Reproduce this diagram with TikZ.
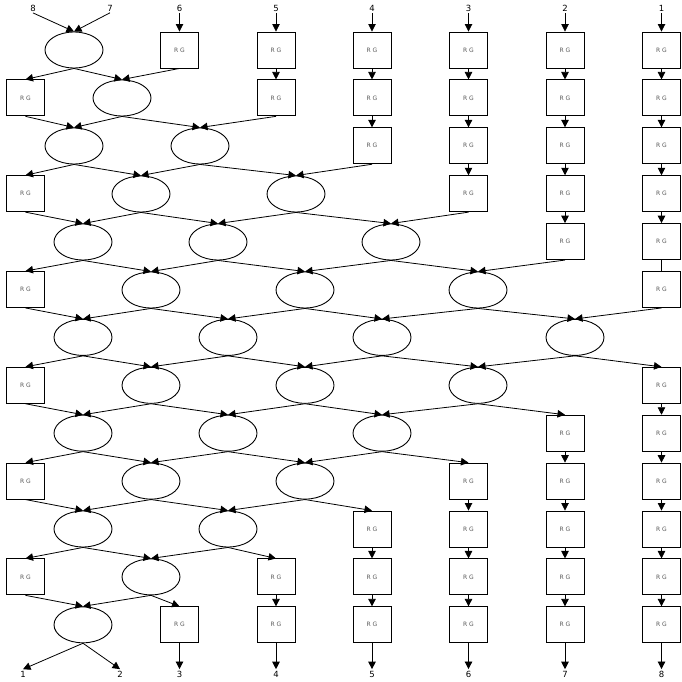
\documentclass[tikz,border=0pt]{standalone}
\usepackage{fontspec}
\setmainfont{DejaVu Sans}
\usetikzlibrary{shapes.geometric,arrows.meta}
\begin{document}
\begin{tikzpicture}[x=1pt,y=-1pt,
 rg/.style={draw,line width=0.9pt,minimum width=38pt,minimum height=36pt,inner sep=0pt,font=\fontsize{6}{7}\selectfont,text=black!65},
 ell/.style={draw,ellipse,line width=0.9pt,minimum width=58pt,minimum height=36pt,inner sep=0pt},
 lbl/.style={inner sep=1.5pt,font=\fontsize{8.5}{9}\selectfont},
 arr/.style={line width=0.8pt,-{Triangle[length=7.5pt,width=7.5pt]}},
 ln/.style={line width=0.8pt}]
\useasboundingbox (0,0) rectangle (681,682);
% column boxes
\foreach \c/\x/\rows in {1/661.5/{1,2,3,4,5,6,8,9,10,11,12,13},2/565/{1,2,3,4,5,9,10,11,12,13},3/468.5/{1,2,3,4,10,11,12,13},4/372/{1,2,3,11,12,13},5/276/{1,2,12,13},6/179.5/{1,13},L/25.5/{2,4,6,8,10,12}}
 {\foreach \r in \rows {\node[rg] (b\c r\r) at (\x,{50+47.9*(\r-1)}) {R G};}}
% ellipses
\node[ell] (e1a) at (74,50) {};
\node[ell] (e2a) at (122,98) {};
\node[ell] (e3a) at (74,146) {};
\node[ell] (e3b) at (200,146) {};
\node[ell] (e4a) at (141,194) {};
\node[ell] (e4b) at (296,194) {};
\node[ell] (e5a) at (83,242) {};
\node[ell] (e5b) at (218,242) {};
\node[ell] (e5c) at (391,242) {};
\node[ell] (e6a) at (151,290) {};
\node[ell] (e6b) at (305,290) {};
\node[ell] (e6c) at (478,290) {};
\node[ell] (e7a) at (83,337.4) {};
\node[ell] (e7b) at (228,337.4) {};
\node[ell] (e7c) at (382,337.4) {};
\node[ell] (e7d) at (575,337.4) {};
\node[ell] (e8a) at (151,385.3) {};
\node[ell] (e8b) at (305,385.3) {};
\node[ell] (e8c) at (478,385.3) {};
\node[ell] (e9a) at (83,433.2) {};
\node[ell] (e9b) at (228,433.2) {};
\node[ell] (e9c) at (382,433.2) {};
\node[ell] (e10a) at (151,481.1) {};
\node[ell] (e10b) at (305,481.1) {};
\node[ell] (e11a) at (83,529) {};
\node[ell] (e11b) at (228,529) {};
\node[ell] (e12a) at (151,576.9) {};
\node[ell] (e13a) at (83,624.8) {};
% labels
\node[lbl] (t8) at (33,8) {8};
\node[lbl] (t7) at (110,8) {7};
\node[lbl] (t6) at (179.5,8) {6};
\node[lbl] (t5) at (276,8) {5};
\node[lbl] (t4) at (372,8) {4};
\node[lbl] (t3) at (468.5,8) {3};
\node[lbl] (t2) at (565,8) {2};
\node[lbl] (t1) at (661.5,8) {1};
\node[lbl] (l1) at (23,674) {1};
\node[lbl] (l2) at (120,674) {2};
\node[lbl] (l3) at (179.5,674) {3};
\node[lbl] (l4) at (276,674) {4};
\node[lbl] (l5) at (372,674) {5};
\node[lbl] (l6) at (468.5,674) {6};
\node[lbl] (l7) at (565,674) {7};
\node[lbl] (l8) at (661.5,674) {8};
% top arrows
\draw[arr] (t8.south) -- (e1a.north);
\draw[arr] (t7.south) -- (e1a.north);
\foreach \c in {1,...,6} {\draw[arr] (t\c.south) -- (b\c r1.north);}
% column chains
\foreach \a/\b in {1/2,2/3,3/4,4/5,8/9,9/10,10/11,11/12,12/13} {\draw[arr] (b1r\a.south) -- (b1r\b.north);}
\draw[ln] (b1r5.south) -- (b1r6.north);
\foreach \a/\b in {1/2,2/3,3/4,4/5,9/10,10/11,11/12,12/13} {\draw[arr] (b2r\a.south) -- (b2r\b.north);}
\foreach \a/\b in {1/2,2/3,3/4,10/11,11/12,12/13} {\draw[arr] (b3r\a.south) -- (b3r\b.north);}
\foreach \a/\b in {1/2,2/3,11/12,12/13} {\draw[arr] (b4r\a.south) -- (b4r\b.north);}
\foreach \a/\b in {1/2,12/13} {\draw[arr] (b5r\a.south) -- (b5r\b.north);}
% network edges
\foreach \s/\t in {e1a/bLr2,e1a/e2a,b6r1/e2a,
 bLr2/e3a,e2a/e3a,e2a/e3b,b5r2/e3b,
 e3a/bLr4,e3a/e4a,e3b/e4a,e3b/e4b,b4r3/e4b,
 bLr4/e5a,e4a/e5a,e4a/e5b,e4b/e5b,e4b/e5c,b3r4/e5c,
 e5a/bLr6,e5a/e6a,e5b/e6a,e5b/e6b,e5c/e6b,e5c/e6c,b2r5/e6c,
 bLr6/e7a,e6a/e7a,e6a/e7b,e6b/e7b,e6b/e7c,e6c/e7c,e6c/e7d,b1r6/e7d,
 e7a/bLr8,e7a/e8a,e7b/e8a,e7b/e8b,e7c/e8b,e7c/e8c,e7d/e8c,e7d/b1r8,
 bLr8/e9a,e8a/e9a,e8a/e9b,e8b/e9b,e8b/e9c,e8c/e9c,e8c/b2r9,
 e9a/bLr10,e9a/e10a,e9b/e10a,e9b/e10b,e9c/e10b,e9c/b3r10,
 bLr10/e11a,e10a/e11a,e10a/e11b,e10b/e11b,e10b/b4r11,
 e11a/bLr12,e11a/e12a,e11b/e12a,e11b/b5r12,
 bLr12/e13a,e12a/e13a,e12a/b6r13,
 e13a/l1,e13a/l2,b6r13/l3,b5r13/l4,b4r13/l5,b3r13/l6,b2r13/l7,b1r13/l8}
 {\draw[arr] (\s.south) -- (\t.north);}
\end{tikzpicture}
\end{document}
